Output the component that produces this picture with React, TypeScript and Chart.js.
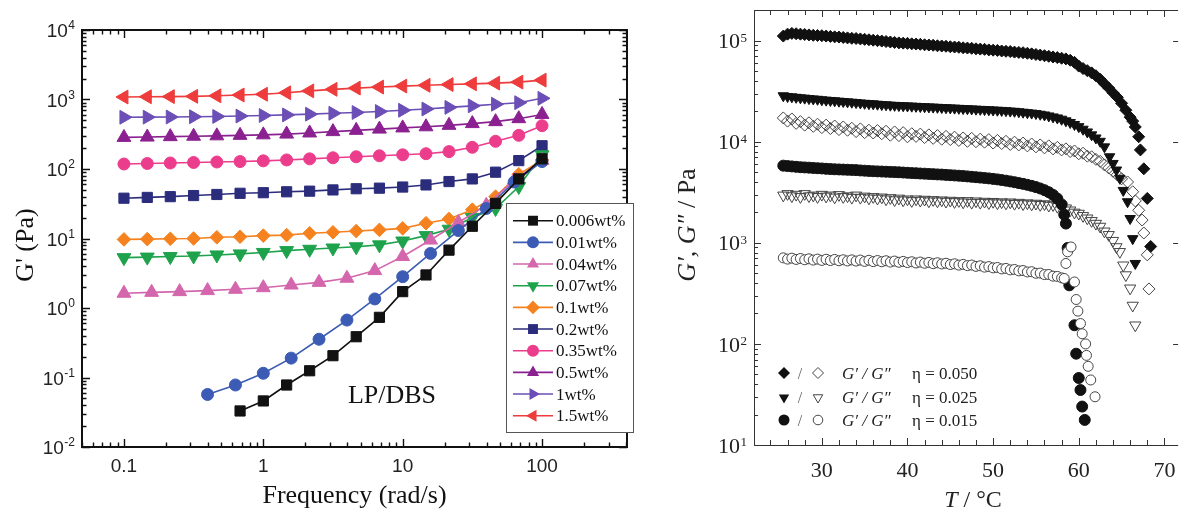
import React, { useEffect, useRef } from 'react';
import { Chart, registerables } from 'chart.js';

Chart.register(...registerables);

const SERIF = "'Liberation Serif', 'Times New Roman', serif";
const SANS = "'Liberation Sans', Arial, sans-serif";

// ---------------- Left panel data (G' vs frequency) ----------------
const freq6 = [0.1, 0.147, 0.215, 0.316, 0.464, 0.681, 1, 1.47, 2.15, 3.16, 4.64, 6.81, 10, 14.7, 21.5, 31.6, 46.4, 68.1, 100];
const freq5 = [0.1, 0.158, 0.251, 0.398, 0.631, 1, 1.585, 2.51, 3.98, 6.31, 10, 15.85, 25.1, 39.8, 63.1, 100];
const freqBlack = [0.681, 1, 1.47, 2.15, 3.16, 4.64, 6.81, 10, 14.7, 21.5, 31.6, 46.4, 68.1, 100];
const freqBlue = [0.398, 0.631, 1, 1.585, 2.51, 3.98, 6.31, 10, 15.85, 25.1, 39.8, 63.1, 100];

const g006 = [0.033, 0.046, 0.078, 0.125, 0.206, 0.386, 0.734, 1.72, 2.99, 6.8, 15, 32, 72, 140];
const g01 = [0.057, 0.078, 0.115, 0.19, 0.355, 0.67, 1.35, 2.82, 6.1, 13, 27, 65, 128];
const g04 = [1.63, 1.68, 1.72, 1.78, 1.86, 1.96, 2.14, 2.34, 2.68, 3.45, 5.5, 9.5, 17, 30, 69, 132];
const g07 = [5.3, 5.4, 5.5, 5.6, 5.8, 6.0, 6.3, 6.7, 7.0, 7.3, 7.6, 8.1, 9.2, 11.0, 13.6, 20, 27, 56, 160];
const g1 = [9.7, 9.8, 9.9, 10.0, 10.4, 10.6, 11.0, 11.2, 11.9, 12.3, 12.8, 13.3, 14.0, 16.6, 19.1, 26, 40, 84, 135];
const g2 = [38, 39, 40, 41.5, 43, 44.7, 45.6, 47, 48, 50, 52, 53, 55, 59, 66, 72, 90, 132, 216];
const g35 = [118, 120, 122, 124, 126, 128, 131, 135, 140, 145, 150, 155, 160, 166, 178, 205, 250, 305, 420];
const g5 = [285, 288, 292, 296, 300, 305, 310, 318, 330, 345, 360, 375, 390, 405, 425, 450, 480, 530, 610];
const g10 = [555, 557, 560, 565, 570, 578, 588, 600, 615, 633, 650, 672, 700, 730, 770, 810, 855, 900, 1040];
const g15 = [1085, 1095, 1100, 1110, 1130, 1160, 1190, 1250, 1330, 1400, 1460, 1510, 1560, 1600, 1640, 1680, 1720, 1780, 1900];

const leftLabels = ['0.006wt%', '0.01wt%', '0.04wt%', '0.07wt%', '0.1wt%', '0.2wt%', '0.35wt%', '0.5wt%', '1wt%', '1.5wt%'];
const leftColors = ['#111111', '#3c5bb4', '#d466ad', '#1ea34c', '#f5821f', '#2b2d7c', '#ec3d8d', '#8b2191', '#6b4fb6', '#ee3b3b'];
const leftShapes = ['square', 'circle', 'triUp', 'triDown', 'diamond', 'square', 'circle', 'triUp', 'triRight', 'triLeft'];
const leftXs = [freqBlack, freqBlue, freq5, freq6, freq6, freq6, freq6, freq6, freq6, freq6];
const leftYs = [g006, g01, g04, g07, g1, g2, g35, g5, g10, g15];

const leftXTickValues = [0.1, 1, 10, 100];
const leftXTickLabels = ['0.1', '1', '10', '100'];
const leftYExponents = ['-2', '-1', '0', '1', '2', '3', '4'];

// ---------------- Right panel data (G', G'' vs T) ----------------
const tempsBand = [25.5, 26, 26.5, 27, 27.5, 28, 28.5, 29, 29.5, 30, 30.5, 31, 31.5, 32, 32.5, 33, 33.5, 34, 34.5, 35, 35.5, 36, 36.5, 37, 37.5, 38, 38.5, 39, 39.5, 40, 40.5, 41, 41.5, 42, 42.5, 43, 43.5, 44, 44.5, 45, 45.5, 46, 46.5, 47, 47.5, 48, 48.5, 49, 49.5, 50, 50.5, 51, 51.5, 52, 52.5, 53, 53.5, 54, 54.5, 55, 55.5, 56, 56.5, 57, 57.5, 58];

// G' eta = 0.050 (filled diamonds)
const gp050Band = [111000, 116000, 118000, 117000, 116000, 115000, 114000, 113000, 112500, 112000, 111000, 110000, 109000, 108500, 107500, 106500, 105500, 105000, 104000, 103000, 102000, 101000, 100000, 99000, 98000, 97000, 96000, 95000, 94500, 94000, 93000, 92500, 92000, 91000, 90500, 90000, 89000, 88500, 88000, 87000, 86500, 86000, 85000, 84500, 84000, 83000, 82500, 82000, 81000, 80500, 80000, 79000, 78500, 78000, 77000, 76500, 76000, 75000, 74000, 73000, 72000, 71000, 70000, 69000, 68000, 67000];
const gp050TailT = [58.5, 59, 59.5, 60, 60.5, 61, 61.5, 62, 62.5, 63, 63.5, 64, 64.5, 65, 65.5, 66, 66.3, 66.6, 67.0, 67.2, 67.6, 68.0, 68.4];
const gp050TailV = [66000, 64000, 61000, 56000, 53000, 50500, 48000, 45000, 41500, 37500, 34000, 30500, 27500, 24000, 20500, 17500, 16000, 14000, 11200, 8300, 5400, 2750, 920];

// G'' eta = 0.050 (open diamonds)
const gpp050Band = [17200, 16000, 16800, 15200, 15800, 14600, 15400, 14200, 14900, 13800, 14600, 13500, 14300, 13200, 14000, 13000, 13600, 12600, 13400, 12300, 13000, 12200, 12900, 12000, 12700, 11600, 12500, 11500, 12300, 11200, 12000, 11300, 11900, 11000, 11700, 10800, 11500, 10600, 11300, 10500, 11100, 10300, 10900, 10100, 10800, 10000, 10600, 9900, 10500, 9700, 10300, 9600, 10100, 9400, 9900, 9300, 9700, 9100, 9500, 8900, 9300, 8700, 9100, 8500, 8800, 8300];
const gpp050TailT = [58.5, 59, 59.5, 60, 60.5, 61, 61.5, 62, 62.5, 63, 63.5, 64, 64.5, 65, 65.7, 66.3, 66.6, 67.0, 67.4, 67.6, 68.0, 68.2];
const gpp050TailV = [8500, 8000, 8100, 7600, 7700, 7200, 7100, 6700, 6400, 5900, 5500, 5100, 4700, 4300, 4000, 3200, 2600, 2100, 1680, 1250, 760, 350];

// G' eta = 0.025 (filled down triangles)
const gp025Band = [28500, 28000, 27800, 27500, 27200, 27000, 26700, 26500, 26300, 26000, 25800, 25600, 25400, 25200, 25000, 24800, 24600, 24400, 24200, 24000, 23800, 23700, 23500, 23300, 23200, 23000, 22900, 22800, 22700, 22600, 22500, 22400, 22300, 22200, 22100, 22000, 21900, 21800, 21700, 21600, 21500, 21400, 21300, 21200, 21100, 21000, 20900, 20800, 20700, 20600, 20500, 20400, 20300, 20100, 20000, 19800, 19600, 19400, 19200, 19000, 18700, 18400, 18000, 17600, 17200, 16700];
const gp025TailT = [58.5, 59, 59.5, 60, 60.5, 61, 61.5, 62, 62.5, 63, 63.6, 64.0, 64.4, 64.8, 65.2, 65.7, 66.0, 66.3, 66.6];
const gp025TailV = [16100, 15500, 14800, 14100, 13300, 12500, 11700, 10900, 10100, 8900, 7100, 6100, 5250, 4350, 3300, 2550, 1740, 1100, 625];

// G'' eta = 0.025 (open down triangles)
const gpp025Band = [2950, 3050, 2900, 3000, 2850, 3050, 2900, 2950, 2850, 3000, 2880, 2950, 2820, 2980, 2850, 2900, 2800, 2950, 2800, 2880, 2760, 2850, 2750, 2820, 2700, 2780, 2650, 2750, 2640, 2700, 2600, 2700, 2620, 2680, 2580, 2660, 2580, 2640, 2560, 2620, 2540, 2600, 2520, 2600, 2500, 2580, 2500, 2560, 2480, 2550, 2470, 2530, 2460, 2520, 2440, 2500, 2420, 2470, 2400, 2450, 2380, 2420, 2340, 2370, 2280, 2300];
const gpp025TailT = [58.5, 59, 59.5, 60, 60.5, 61, 61.5, 62, 62.5, 63, 63.5, 64, 64.4, 64.8, 65.2, 65.5, 66.0, 66.3, 66.6];
const gpp025TailV = [2200, 2100, 2000, 1950, 1850, 1750, 1650, 1550, 1450, 1300, 1200, 1050, 910, 815, 600, 480, 355, 240, 153];

// G' eta = 0.015 (filled circles)
const gp015Band = [5800, 5750, 5700, 5650, 5600, 5570, 5540, 5500, 5470, 5440, 5400, 5370, 5340, 5320, 5300, 5280, 5260, 5240, 5200, 5170, 5140, 5110, 5090, 5070, 5050, 5030, 5010, 4990, 4960, 4930, 4900, 4880, 4850, 4830, 4800, 4780, 4750, 4730, 4700, 4670, 4640, 4610, 4580, 4540, 4500, 4460, 4420, 4380, 4340, 4290, 4240, 4180, 4120, 4050, 3980, 3900, 3830, 3750, 3660, 3560, 3450, 3320, 3170, 2980, 2740, 2400];
const gp015TailT = [58.3, 58.5, 58.7, 58.9, 59.5, 59.7, 60.0, 60.2, 60.4, 60.7];
const gp015TailV = [1900, 1550, 890, 380, 153, 80, 46, 35, 24, 17.7];

// G'' eta = 0.015 (open circles)
const gpp015Band = [710, 690, 705, 685, 700, 680, 695, 675, 690, 670, 688, 668, 685, 665, 680, 662, 678, 660, 675, 655, 672, 652, 668, 650, 665, 645, 660, 642, 655, 638, 650, 632, 645, 628, 640, 622, 635, 618, 628, 610, 620, 602, 612, 595, 603, 585, 593, 575, 582, 565, 570, 552, 558, 540, 545, 528, 532, 515, 518, 500, 502, 485, 486, 468, 465, 450];
const gpp015TailT = [58.3, 58.5, 58.7, 59.1, 59.5, 59.7, 59.9, 60.2, 60.4, 60.8, 60.9, 61.1, 61.4, 61.9];
const gpp015TailV = [444, 625, 815, 910, 410, 275, 211, 159, 126, 100, 77, 60, 44, 30];

const rightXTickLabels = ['30', '40', '50', '60', '70'];
const rightYExponents = ['1', '2', '3', '4', '5'];
const rightLegendEta = ['0.050', '0.025', '0.015'];
const rightLegendShapes = ['diamond', 'triDown', 'circle'];

// ---------------- helpers ----------------
function logTicks(min: number, max: number) {
  const out: { v: number; major: boolean }[] = [];
  const e0 = Math.floor(Math.log10(min));
  const e1 = Math.ceil(Math.log10(max));
  for (let e = e0; e <= e1; e++) {
    for (let k = 1; k <= 9; k++) {
      const v = Number((k * Math.pow(10, e)).toPrecision(6));
      if (v >= min * 0.9999 && v <= max * 1.0001) out.push({ v, major: k === 1 });
    }
  }
  return out;
}

function markerPath(ctx: CanvasRenderingContext2D, shape: string, x: number, y: number, r: number) {
  ctx.beginPath();
  const tri = (deg: number) => {
    let a = (deg * Math.PI) / 180;
    for (let i = 0; i < 3; i++) {
      const px = x + Math.sin(a) * r;
      const py = y - Math.cos(a) * r;
      if (i === 0) ctx.moveTo(px, py);
      else ctx.lineTo(px, py);
      a += (2 * Math.PI) / 3;
    }
    ctx.closePath();
  };
  switch (shape) {
    case 'square': {
      const h = r * Math.SQRT1_2;
      ctx.rect(x - h, y - h, 2 * h, 2 * h);
      break;
    }
    case 'circle':
      ctx.arc(x, y, r, 0, Math.PI * 2);
      break;
    case 'diamond':
      ctx.moveTo(x, y - r);
      ctx.lineTo(x + r, y);
      ctx.lineTo(x, y + r);
      ctx.lineTo(x - r, y);
      ctx.closePath();
      break;
    case 'triUp': tri(0); break;
    case 'triDown': tri(180); break;
    case 'triRight': tri(90); break;
    case 'triLeft': tri(-90); break;
  }
}

function chartStyle(shape: string) {
  switch (shape) {
    case 'square': return { pointStyle: 'rect', rot: 0, r: 7.2 };
    case 'circle': return { pointStyle: 'circle', rot: 0, r: 6 };
    case 'diamond': return { pointStyle: 'rectRot', rot: 0, r: 6.8 };
    case 'triUp': return { pointStyle: 'triangle', rot: 0, r: 8 };
    case 'triDown': return { pointStyle: 'triangle', rot: 180, r: 8 };
    case 'triRight': return { pointStyle: 'triangle', rot: 90, r: 8 };
    case 'triLeft': return { pointStyle: 'triangle', rot: -90, r: 8 };
  }
  return { pointStyle: 'circle', rot: 0, r: 5 };
}

function drawPow(ctx: CanvasRenderingContext2D, exp: string, rightX: number, y: number, mainFont: string, supFont: string, mainOff: number, supOff: number) {
  ctx.textAlign = 'left';
  ctx.textBaseline = 'alphabetic';
  ctx.font = supFont;
  const ws = ctx.measureText(exp).width;
  ctx.font = mainFont;
  const wm = ctx.measureText('10').width;
  ctx.fillText('10', rightX - ws - wm - 0.5, y + mainOff);
  ctx.font = supFont;
  ctx.fillText(exp, rightX - ws, y + supOff);
}

// ---------------- left panel decoration ----------------
const leftDecor = {
  id: 'leftDecor',
  afterDraw(chart: any) {
    const { ctx, chartArea: a } = chart;
    const xs = chart.scales.x;
    const ys = chart.scales.y;
    ctx.save();
    ctx.strokeStyle = '#111';
    ctx.fillStyle = '#111';
    ctx.lineWidth = 1.4;
    ctx.beginPath();
    for (const t of logTicks(xs.min, xs.max)) {
      const px = Math.round(xs.getPixelForValue(t.v)) + 0.5;
      const len = t.major ? 8 : 4.5;
      ctx.moveTo(px, a.bottom); ctx.lineTo(px, a.bottom - len);
      ctx.moveTo(px, a.top); ctx.lineTo(px, a.top + len);
    }
    for (const t of logTicks(ys.min, ys.max)) {
      const py = Math.round(ys.getPixelForValue(t.v)) + 0.5;
      const len = t.major ? 8 : 4.5;
      ctx.moveTo(a.left, py); ctx.lineTo(a.left + len, py);
      ctx.moveTo(a.right, py); ctx.lineTo(a.right - len, py);
    }
    ctx.stroke();
    ctx.lineWidth = 2;
    ctx.strokeRect(a.left, a.top, a.right - a.left, a.bottom - a.top);

    // tick labels
    ctx.fillStyle = '#222';
    ctx.font = `19px ${SANS}`;
    ctx.textAlign = 'center';
    ctx.textBaseline = 'alphabetic';
    leftXTickValues.forEach((v, i) => {
      ctx.fillText(leftXTickLabels[i], xs.getPixelForValue(v), 472);
    });
    leftYExponents.forEach((e) => {
      const py = ys.getPixelForValue(Math.pow(10, Number(e)));
      drawPow(ctx, e, 75, py, `19px ${SANS}`, `12px ${SANS}`, 7, -1);
    });

    // axis titles
    ctx.fillStyle = '#111';
    ctx.font = `26px ${SERIF}`;
    ctx.textAlign = 'center';
    ctx.fillText('Frequency (rad/s)', (a.left + a.right) / 2, 503);
    ctx.save();
    ctx.translate(26, 245);
    ctx.rotate(-Math.PI / 2);
    ctx.textBaseline = 'middle';
    ctx.fillText("G' (Pa)", 0, 0);
    ctx.restore();

    ctx.font = `26px ${SERIF}`;
    ctx.textAlign = 'center';
    ctx.textBaseline = 'alphabetic';
    ctx.fillText('LP/DBS', 392, 403);

    // legend
    const bx = 506, by = 203, bw = 127, bh = 229;
    ctx.fillStyle = '#fff';
    ctx.fillRect(bx, by, bw, bh);
    ctx.strokeStyle = '#555';
    ctx.lineWidth = 1;
    ctx.strokeRect(bx + 0.5, by + 0.5, bw, bh);
    leftLabels.forEach((lab, i) => {
      const cy = 220.7 + i * 21.67;
      const col = leftColors[i];
      ctx.strokeStyle = col;
      ctx.lineWidth = 1.6;
      ctx.beginPath();
      ctx.moveTo(513, cy); ctx.lineTo(553, cy);
      ctx.stroke();
      const st = chartStyle(leftShapes[i]);
      markerPath(ctx, leftShapes[i], 533, cy, Math.min(st.r, 7));
      ctx.fillStyle = col;
      ctx.fill();
      ctx.fillStyle = '#111';
      ctx.font = `17px ${SERIF}`;
      ctx.textAlign = 'left';
      ctx.textBaseline = 'middle';
      ctx.fillText(lab, 556, cy + 1);
    });
    ctx.restore();
  },
};

// ---------------- right panel decoration ----------------
const RIGHT_FRAME_MAX = 71.6;
const rightDecor = {
  id: 'rightDecor',
  afterDraw(chart: any) {
    const { ctx, chartArea: a } = chart;
    const xs = chart.scales.x;
    const ys = chart.scales.y;
    const rx = xs.getPixelForValue(RIGHT_FRAME_MAX);
    ctx.save();
    ctx.strokeStyle = '#333';
    ctx.lineWidth = 1;
    ctx.beginPath();
    for (let v = 24; v <= 70; v += 2) {
      const px = Math.round(xs.getPixelForValue(v)) + 0.5;
      const len = v % 10 === 0 ? 7 : 5;
      ctx.moveTo(px, a.bottom); ctx.lineTo(px, a.bottom - len);
      ctx.moveTo(px, a.top); ctx.lineTo(px, a.top + len);
    }
    for (const t of logTicks(ys.min, ys.max)) {
      const py = Math.round(ys.getPixelForValue(t.v)) + 0.5;
      const len = t.major ? 7 : 4;
      ctx.moveTo(a.left, py); ctx.lineTo(a.left + len, py);
      if (t.major) { ctx.moveTo(rx, py); ctx.lineTo(rx - 5, py); }
    }
    ctx.stroke();
    ctx.beginPath();
    ctx.moveTo(a.left + 0.5, a.top + 0.5);
    ctx.lineTo(rx, a.top + 0.5);
    ctx.moveTo(a.left + 0.5, a.top + 0.5);
    ctx.lineTo(a.left + 0.5, a.bottom + 0.5);
    ctx.lineTo(rx, a.bottom + 0.5);
    ctx.stroke();

    ctx.fillStyle = '#222';
    ctx.font = `22px ${SERIF}`;
    ctx.textAlign = 'center';
    ctx.textBaseline = 'alphabetic';
    rightXTickLabels.forEach((lab) => {
      ctx.fillText(lab, xs.getPixelForValue(Number(lab)), 477);
    });
    rightYExponents.forEach((e) => {
      const py = ys.getPixelForValue(Math.pow(10, Number(e)));
      drawPow(ctx, e, 107, py, `22px ${SERIF}`, `13px ${SERIF}`, 7.6, 1);
    });

    // x title: T / °C
    ctx.font = `italic 24px ${SERIF}`;
    const wT = ctx.measureText('T').width;
    ctx.font = `24px ${SERIF}`;
    const wRest = ctx.measureText(' / °C').width;
    const cx = 333;
    ctx.textAlign = 'left';
    ctx.font = `italic 24px ${SERIF}`;
    ctx.fillText('T', cx - (wT + wRest) / 2, 507);
    ctx.font = `24px ${SERIF}`;
    ctx.fillText(' / °C', cx - (wT + wRest) / 2 + wT, 507);

    // y title: G′, G″ / Pa
    ctx.save();
    ctx.translate(48, 225);
    ctx.rotate(-Math.PI / 2);
    ctx.textBaseline = 'middle';
    ctx.font = `italic 26px ${SERIF}`;
    const w1 = ctx.measureText('G′, G″').width;
    ctx.font = `26px ${SERIF}`;
    const w2 = ctx.measureText(' / Pa').width;
    ctx.textAlign = 'left';
    ctx.font = `italic 26px ${SERIF}`;
    ctx.fillText('G′, G″', -(w1 + w2) / 2, 0);
    ctx.font = `26px ${SERIF}`;
    ctx.fillText(' / Pa', -(w1 + w2) / 2 + w1, 0);
    ctx.restore();

    // legend
    const rowY = [373, 397.5, 420];
    rightLegendEta.forEach((eta, i) => {
      const cy = rowY[i];
      const shape = rightLegendShapes[i];
      const rf = shape === 'circle' ? 5.5 : 6;
      markerPath(ctx, shape, 144, cy, rf);
      ctx.fillStyle = '#111';
      ctx.fill();
      markerPath(ctx, shape, 178, cy, shape === 'circle' ? 4.8 : 5.5);
      ctx.strokeStyle = '#444';
      ctx.lineWidth = 1;
      ctx.stroke();
      ctx.fillStyle = '#666';
      ctx.font = `16px ${SERIF}`;
      ctx.textAlign = 'center';
      ctx.textBaseline = 'alphabetic';
      ctx.fillText('/', 160, cy + 5.5);
      ctx.fillStyle = '#222';
      ctx.textAlign = 'left';
      ctx.font = `italic 17px ${SERIF}`;
      ctx.fillText('G′ / G″', 202, cy + 5.5);
      ctx.font = `17px ${SERIF}`;
      ctx.fillText('η = ' + eta, 272, cy + 5.5);
    });
    ctx.restore();
  },
};

function bandData(band: number[], tailT: number[], tailV: number[]) {
  return [
    ...tempsBand.map((t, i) => ({ x: t, y: band[i] })),
    ...tailT.map((t, i) => ({ x: t, y: tailV[i] })),
  ];
}

export default function App() {
  const leftRef = useRef<HTMLCanvasElement>(null);
  const rightRef = useRef<HTMLCanvasElement>(null);

  useEffect(() => {
    const leftDatasets = leftLabels.map((lab, i) => {
      const st = chartStyle(leftShapes[i]);
      return {
        label: lab,
        data: leftXs[i].map((x, j) => ({ x, y: leftYs[i][j] })),
        showLine: true,
        borderColor: leftColors[i],
        backgroundColor: leftColors[i],
        borderWidth: 1.6,
        pointStyle: st.pointStyle,
        pointRotation: st.rot,
        pointRadius: st.r,
        pointBorderWidth: 1,
        pointBackgroundColor: leftColors[i],
        pointBorderColor: leftColors[i],
        tension: 0,
        clip: false,
      };
    });

    const c1 = new Chart(leftRef.current as HTMLCanvasElement, {
      type: 'scatter',
      data: { datasets: leftDatasets as any },
      options: {
        responsive: false,
        animation: false,
        devicePixelRatio: 1,
        events: [],
        layout: { padding: { left: 82, right: 13, top: 30, bottom: 64 } },
        plugins: { legend: { display: false }, tooltip: { enabled: false } },
        scales: {
          x: { type: 'logarithmic', min: 0.05, max: 407, display: false },
          y: { type: 'logarithmic', min: 0.01, max: 10000, display: false },
        },
      } as any,
      plugins: [leftDecor],
    });

    const open = 'rgba(255,255,255,0)';
    const rightDatasets = [
      { label: "G'' η = 0.015", data: bandData(gpp015Band, gpp015TailT, gpp015TailV), pointStyle: 'circle', pointRotation: 0, pointRadius: 5, pointBackgroundColor: '#ffffff', pointBorderColor: '#444', pointBorderWidth: 1 },
      { label: "G' η = 0.015", data: bandData(gp015Band, gp015TailT, gp015TailV), pointStyle: 'circle', pointRotation: 0, pointRadius: 5.5, pointBackgroundColor: '#111', pointBorderColor: '#111', pointBorderWidth: 1 },
      { label: "G'' η = 0.025", data: bandData(gpp025Band, gpp025TailT, gpp025TailV), pointStyle: 'triangle', pointRotation: 180, pointRadius: 6.5, pointBackgroundColor: open, pointBorderColor: '#444', pointBorderWidth: 1 },
      { label: "G' η = 0.025", data: bandData(gp025Band, gp025TailT, gp025TailV), pointStyle: 'triangle', pointRotation: 180, pointRadius: 6, pointBackgroundColor: '#111', pointBorderColor: '#111', pointBorderWidth: 1 },
      { label: "G'' η = 0.050", data: bandData(gpp050Band, gpp050TailT, gpp050TailV), pointStyle: 'rectRot', pointRotation: 0, pointRadius: 6, pointBackgroundColor: open, pointBorderColor: '#444', pointBorderWidth: 1 },
      { label: "G' η = 0.050", data: bandData(gp050Band, gp050TailT, gp050TailV), pointStyle: 'rectRot', pointRotation: 0, pointRadius: 6, pointBackgroundColor: '#111', pointBorderColor: '#111', pointBorderWidth: 1 },
    ].map((d) => ({ ...d, showLine: false, clip: false }));

    const c2 = new Chart(rightRef.current as HTMLCanvasElement, {
      type: 'scatter',
      data: { datasets: rightDatasets as any },
      options: {
        responsive: false,
        animation: false,
        devicePixelRatio: 1,
        events: [],
        layout: { padding: { left: 114, right: 0, top: 10, bottom: 66 } },
        plugins: { legend: { display: false }, tooltip: { enabled: false } },
        scales: {
          x: { type: 'linear', min: 22.08, max: 71.18, display: false },
          y: { type: 'logarithmic', min: 10, max: 201000, display: false },
        },
      } as any,
      plugins: [rightDecor],
    });

    return () => {
      c1.destroy();
      c2.destroy();
    };
  }, []);

  return (
    <div style={{ position: 'absolute', left: 0, top: 0, width: 1182, height: 511, background: '#fff', overflow: 'hidden' }}>
      <canvas ref={leftRef} width={640} height={511} style={{ position: 'absolute', left: 0, top: 0, width: 640, height: 511 }} />
      <canvas ref={rightRef} width={542} height={511} style={{ position: 'absolute', left: 640, top: 0, width: 542, height: 511 }} />
    </div>
  );
}
